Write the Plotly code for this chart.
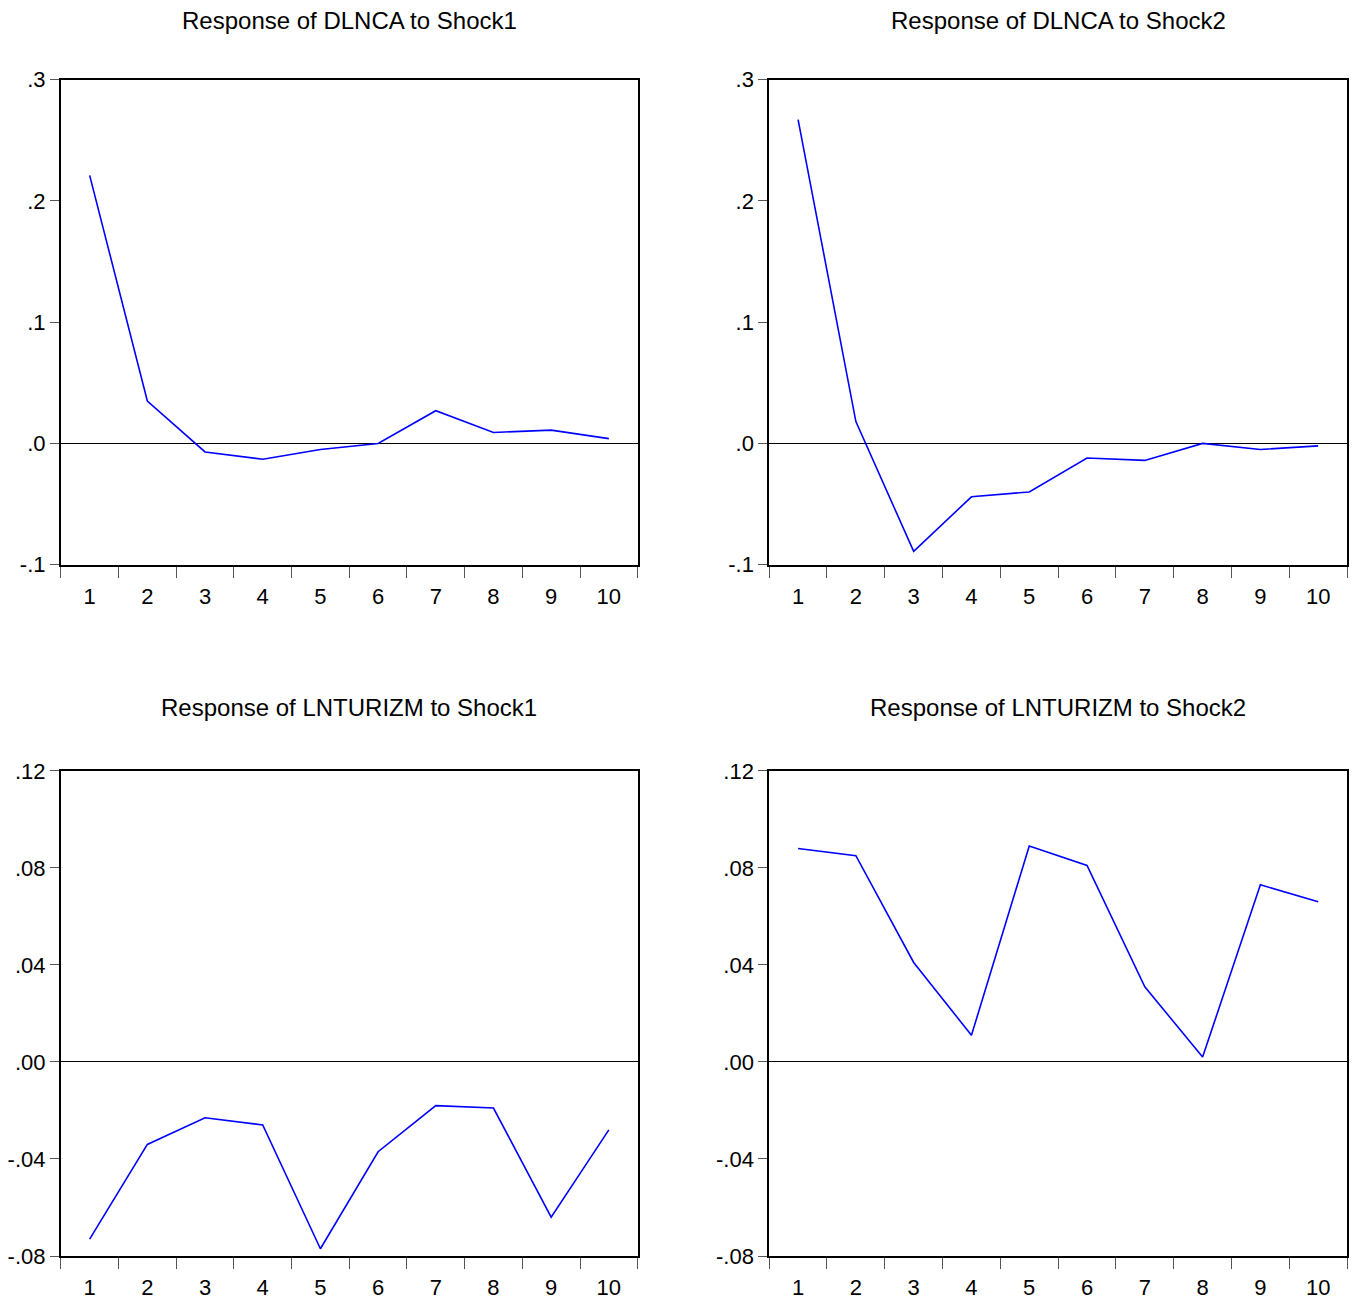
import plotly.graph_objects as go

periods = [1, 2, 3, 4, 5, 6, 7, 8, 9, 10]

dlnca_shock1 = [0.221, 0.035, -0.007, -0.013, -0.005, 0.000, 0.027, 0.009, 0.011, 0.004]
dlnca_shock2 = [0.267, 0.018, -0.089, -0.044, -0.040, -0.012, -0.014, 0.000, -0.005, -0.002]
lnturizm_shock1 = [-0.073, -0.034, -0.023, -0.026, -0.077, -0.037, -0.018, -0.019, -0.064, -0.028]
lnturizm_shock2 = [0.088, 0.085, 0.041, 0.011, 0.089, 0.081, 0.031, 0.002, 0.073, 0.066]

titles = ["Response of DLNCA to Shock1", "Response of DLNCA to Shock2",
          "Response of LNTURIZM to Shock1", "Response of LNTURIZM to Shock2"]

top_ticks = [-0.1, 0.0, 0.1, 0.2, 0.3]
top_labels = ["-.1", ".0", ".1", ".2", ".3"]
bot_ticks = [-0.08, -0.04, 0.0, 0.04, 0.08, 0.12]
bot_labels = ["-.08", "-.04", ".00", ".04", ".08", ".12"]

W, H = 1357, 1304
FONT = "Liberation Sans, Arial, sans-serif"

# target pixel boxes (left, top, right, bottom)
boxes = [(58, 81, 637, 566), (769, 81, 1349, 566),
         (58, 772, 637, 1257), (769, 772, 1349, 1257)]
series = [dlnca_shock1, dlnca_shock2, lnturizm_shock1, lnturizm_shock2]

# compensation for page offset observed in the rendering
def px_x(v):
    return v - 10

def px_y(v):
    return (v - 21.5) / 0.9804

fig = go.Figure()
annotations = []
for i, (box, ys, title) in enumerate(zip(boxes, series, titles)):
    n = i + 1
    xa = "x" if n == 1 else f"x{n}"
    ya = "y" if n == 1 else f"y{n}"
    l, t, r, b = box
    xd = [max(0, px_x(l) / W), min(1, px_x(r) / W)]
    yd = [max(0, 1 - px_y(b) / H), min(1, 1 - px_y(t) / H)]
    fig.add_trace(go.Scatter(x=periods, y=ys, mode="lines",
                             line=dict(color="#0000FF", width=1.6),
                             xaxis=xa, yaxis=ya, showlegend=False))
    if i < 2:
        yr, tv, tt = [-0.1, 0.3], top_ticks, top_labels
    else:
        yr, tv, tt = [-0.08, 0.12], bot_ticks, bot_labels
    xkey = "xaxis" if n == 1 else f"xaxis{n}"
    ykey = "yaxis" if n == 1 else f"yaxis{n}"
    fig.update_layout(**{
        xkey: dict(domain=xd, range=[0.5, 10.5], anchor=ya,
                   tickvals=periods, ticktext=[str(p) for p in periods],
                   ticks="outside", ticklen=11, tickcolor="rgba(0,0,0,0)",
                   showgrid=False, zeroline=False,
                   showline=True, linecolor="black", linewidth=1.8, mirror=True,
                   tickfont=dict(family=FONT, size=22, color="black"),
                   minor=dict(tickvals=[p - 0.5 for p in periods] + [10.5],
                              ticks="outside", ticklen=11, tickwidth=1.2,
                              tickcolor="#555555", showgrid=False),
                   fixedrange=True),
        ykey: dict(domain=yd, range=yr, anchor=xa,
                   tickvals=tv, ticktext=tt, ticks="outside", ticklen=9,
                   tickwidth=1.2, tickcolor="#555555",
                   showgrid=False, zeroline=True, zerolinecolor="black",
                   zerolinewidth=1,
                   showline=True, linecolor="black", linewidth=1.8, mirror=True,
                   tickfont=dict(family=FONT, size=22, color="black"),
                   fixedrange=True),
    })
    ty = 19 if i < 2 else 709
    annotations.append(dict(text=title, x=px_x((l + r) / 2) / W,
                            y=min(1.0, 1 - px_y(ty) / H),
                            xref="paper", yref="paper", showarrow=False,
                            xanchor="center", yanchor="middle",
                            font=dict(family=FONT, size=24, color="black")))

fig.update_layout(width=W, height=H, margin=dict(l=0, r=0, t=0, b=0),
                  paper_bgcolor="white", plot_bgcolor="white",
                  annotations=annotations)
fig.write_html("out.html")
